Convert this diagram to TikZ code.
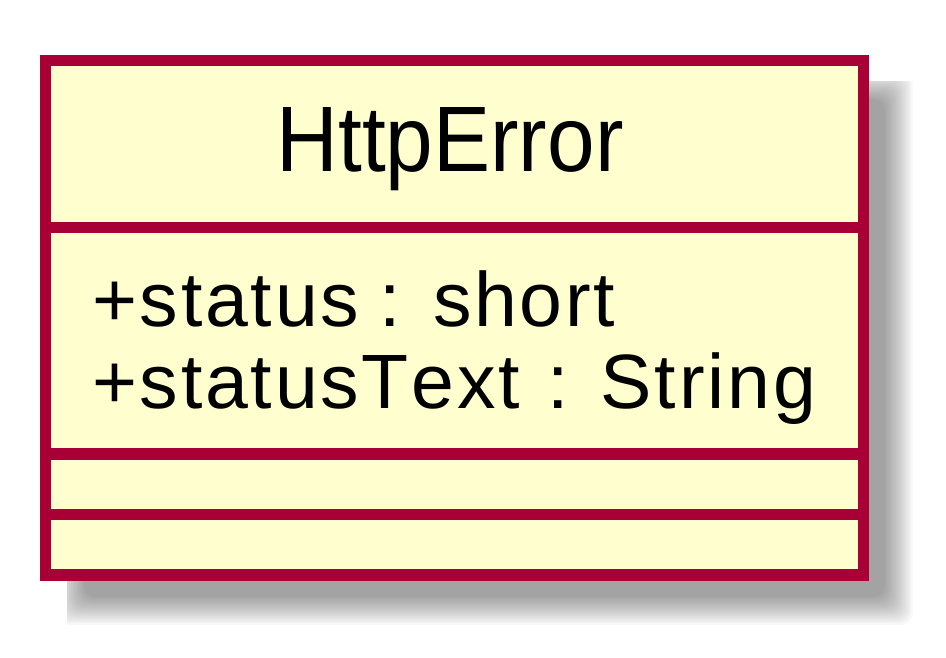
\documentclass[tikz,border=0pt]{standalone}
\usepackage{fontspec}
\setmainfont{Liberation Sans}
\newfontfamily\memberfont[LetterSpace=3.6,Kerning=Off]{Liberation Sans}
\definecolor{classfill}{HTML}{FEFECE}
\definecolor{classborder}{HTML}{A80036}
\begin{document}
\begin{tikzpicture}[x=1pt,y=-1pt,
  frame/.style={draw=classborder,line width=11.5pt},
  titletext/.style={inner sep=0pt,font=\fontsize{93}{100}\selectfont},
  membertext/.style={inner sep=0pt,font=\memberfont\fontsize{77}{84}\selectfont}]
\useasboundingbox (0,0) rectangle (946,658);
% soft drop shadow, built from stacked translucent layers
\begin{scope}
  \clip (67,82) rectangle (946,658);
  \foreach \k in {0,...,15}{
    \pgfmathsetmacro{\e}{14-\k*28/15}
    \fill[black,opacity=0.029,rounded corners=12pt]
      ({70-\e},{85-\e}) rectangle ({899+\e},{611+\e});
  }
\end{scope}
% class box with its compartments
\fill[classfill] (45.5,60.5) rectangle (863.5,575);
\draw[frame] (45.5,60.5) rectangle (863.5,575);
\draw[frame] (45.5,227.5) -- (863.5,227.5);
\draw[frame] (45.5,454) -- (863.5,454);
\draw[frame] (45.5,514.4) -- (863.5,514.4);
% texts
\node[titletext,anchor=base] (title) at (450,171.7) {\scalebox{0.92}[1]{HttpError}};
\node[membertext,anchor=base west] (attrA) at (92,326.7) {+status\hspace{-4pt} : short};
\node[membertext,anchor=base west] (attrB) at (92,408) {+statusText\hspace{3pt} : String};
\end{tikzpicture}
\end{document}
